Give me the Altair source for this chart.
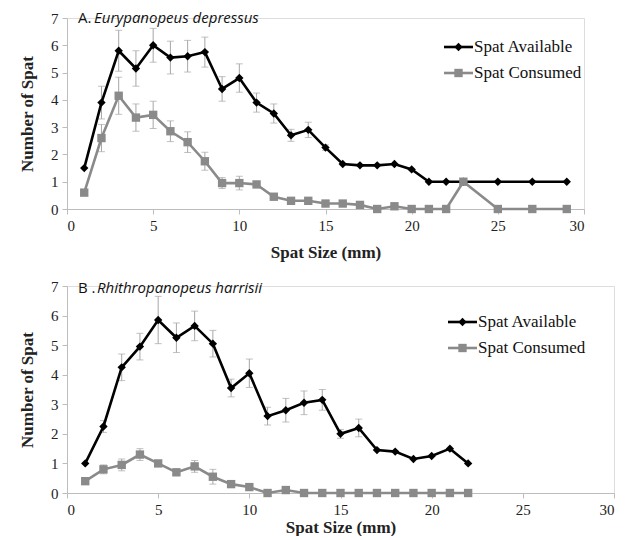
import altair as alt
import pandas as pd

# ---- Panel A: Eurypanopeus depressus ----
a_size = [1, 2, 3, 4, 5, 6, 7, 8, 9, 10, 11, 12, 13, 14, 15, 16, 17, 18, 19, 20, 21, 22, 23, 25, 27, 29]
a_avail = [1.5, 3.9, 5.8, 5.15, 6.0, 5.55, 5.6, 5.75, 4.4, 4.8, 3.9, 3.5, 2.7, 2.9, 2.25, 1.65, 1.6, 1.6, 1.65, 1.45, 1.0, 1.0, 1.0, 1.0, 1.0, 1.0]
a_avail_err = [0.0, 0.6, 0.75, 0.65, 0.62, 0.6, 0.58, 0.55, 0.45, 0.52, 0.35, 0.35, 0.22, 0.28, 0.1, 0.0, 0.0, 0.0, 0.0, 0.0, 0.0, 0.0, 0.0, 0.0, 0.0, 0.0]
a_cons = [0.6, 2.6, 4.15, 3.35, 3.45, 2.85, 2.45, 1.75, 0.95, 0.95, 0.9, 0.45, 0.3, 0.3, 0.2, 0.2, 0.15, 0.0, 0.1, 0.0, 0.0, 0.0, 1.0, 0.0, 0.0, 0.0]
a_cons_err = [0.0, 0.5, 0.68, 0.5, 0.5, 0.38, 0.38, 0.33, 0.2, 0.25, 0.1, 0.0, 0.0, 0.0, 0.0, 0.0, 0.0, 0.0, 0.0, 0.0, 0.0, 0.0, 0.0, 0.0, 0.0, 0.0]

# ---- Panel B: Rhithropanopeus harrisii ----
b_size = [1, 2, 3, 4, 5, 6, 7, 8, 9, 10, 11, 12, 13, 14, 15, 16, 17, 18, 19, 20, 21, 22]
b_avail = [1.0, 2.25, 4.25, 4.95, 5.85, 5.25, 5.65, 5.05, 3.55, 4.05, 2.6, 2.8, 3.05, 3.15, 2.0, 2.2, 1.45, 1.4, 1.15, 1.25, 1.5, 1.0]
b_avail_err = [0.0, 0.2, 0.45, 0.45, 0.8, 0.5, 0.5, 0.45, 0.3, 0.48, 0.3, 0.4, 0.4, 0.35, 0.15, 0.3, 0.0, 0.0, 0.0, 0.0, 0.0, 0.0]
b_cons = [0.4, 0.8, 0.95, 1.3, 1.0, 0.7, 0.9, 0.55, 0.3, 0.2, 0.0, 0.1, 0.0, 0.0, 0.0, 0.0, 0.0, 0.0, 0.0, 0.0, 0.0, 0.0]
b_cons_err = [0.0, 0.15, 0.2, 0.2, 0.1, 0.1, 0.2, 0.25, 0.05, 0.0, 0.0, 0.0, 0.0, 0.0, 0.0, 0.0, 0.0, 0.0, 0.0, 0.0, 0.0, 0.0]

x_ticks = [0, 5, 10, 15, 20, 25, 30]
y_ticks = [0, 1, 2, 3, 4, 5, 6, 7]

series_names = ["Spat Available", "Spat Consumed"]
series_colors = ["#000000", "#8a8a8a"]
err_color = "#a6a6a6"
serif = "Liberation Serif"
sans = "Open Sans"


def make_df(size, vals, errs, name):
    return pd.DataFrame({
        "size": size,
        "value": vals,
        "lo": [v - e for v, e in zip(vals, errs)],
        "hi": [v + e for v, e in zip(vals, errs)],
        "series": name,
    })


def panel(size, avail, avail_err, cons, cons_err, w, h, tag, species, tag_x, sp_x, lab_y, leg_x, leg_y1, leg_y2, xtpad):
    df = pd.concat([make_df(size, avail, avail_err, series_names[0]),
                    make_df(size, cons, cons_err, series_names[1])])
    xs = alt.Scale(domain=[0, 30], nice=False)
    ys = alt.Scale(domain=[0, 7], nice=False)
    xax = alt.Axis(values=x_ticks, grid=False, domainColor="#bdbdbd", tickColor="#bdbdbd",
                   tickSize=5, labelFont=serif, labelFontSize=15, labelColor="#222", labelPadding=4,
                   labelOverlap=False,
                   title="Spat Size (mm)", titleFont=serif, titleFontSize=17, titleFontWeight="bold",
                   titleColor="#222", titlePadding=xtpad)
    yax = alt.Axis(values=y_ticks, grid=False, domainColor="#bdbdbd", tickColor="#bdbdbd",
                   tickSize=5, labelFont=serif, labelFontSize=15, labelColor="#222", labelPadding=4,
                   labelOverlap=False,
                   title="Number of Spat", titleFont=serif, titleFontSize=17, titleFontWeight="bold",
                   titleColor="#222", titlePadding=14)
    X = alt.X("size:Q", scale=xs, axis=xax)
    color = alt.Color("series:N", scale=alt.Scale(domain=series_names, range=series_colors), legend=None)
    base = alt.Chart(df)
    err = base.transform_filter("datum.hi > datum.lo").mark_errorbar(
        ticks=alt.MarkConfig(size=7, color=err_color, strokeWidth=1), color=err_color, thickness=1).encode(
        x=X,
        y=alt.Y("lo:Q", scale=ys, axis=yax),
        y2="hi:Q",
    )
    lines = base.mark_line(strokeWidth=2.6).encode(
        x=X, y=alt.Y("value:Q", scale=ys, axis=yax), color=color, detail="series:N")
    pts = base.mark_point(filled=True, opacity=1, size=70).encode(
        x=X, y=alt.Y("value:Q", scale=ys, axis=yax), color=color,
        shape=alt.Shape("series:N", scale=alt.Scale(domain=series_names, range=["diamond", "square"]), legend=None))
    tag_t = alt.Chart().mark_text(text=tag, font=sans, fontSize=15, align="left", baseline="middle", color="#111").encode(
        x=alt.value(tag_x), y=alt.value(lab_y))
    sp_t = alt.Chart().mark_text(text=species, font=sans, fontSize=15, fontStyle="italic", align="left",
                                 baseline="middle", color="#111").encode(
        x=alt.value(sp_x), y=alt.value(lab_y))
    legend_layers = []
    for name, col, shp, ly in zip(series_names, series_colors, ["diamond", "square"], [leg_y1, leg_y2]):
        legend_layers.append(alt.Chart().mark_rule(color=col, strokeWidth=2.6).encode(
            x=alt.value(leg_x), x2=alt.value(leg_x + 29), y=alt.value(ly)))
        legend_layers.append(alt.Chart().mark_point(shape=shp, filled=True, opacity=1, size=70, color=col).encode(
            x=alt.value(leg_x + 14.5), y=alt.value(ly)))
        legend_layers.append(alt.Chart().mark_text(text=name, font=serif, fontSize=17, align="left",
                                                   baseline="middle", color="#111").encode(
            x=alt.value(leg_x + 30), y=alt.value(ly)))
    return alt.layer(err, lines, pts, tag_t, sp_t, *legend_layers).properties(width=w, height=h)


top = panel(a_size, a_avail, a_avail_err, a_cons, a_cons_err, 517, 191,
            "A.", "Eurypanopeus depressus", 11, 27, 0, 377, 29, 55, 11)
bottom = panel(b_size, b_avail, b_avail_err, b_cons, b_cons_err, 547, 207,
               "B .", "Rhithropanopeus harrisii", 11, 30, 2, 381, 36, 62, 2)

chart = alt.vconcat(top, bottom, spacing=17).properties(
    padding={"left": 10, "top": 2, "right": 5, "bottom": 0}
).configure_view(stroke=None).configure_axis(labelFont=serif).configure(background="white")

chart.save("out.html", embed_options={"renderer": "svg", "actions": False})
